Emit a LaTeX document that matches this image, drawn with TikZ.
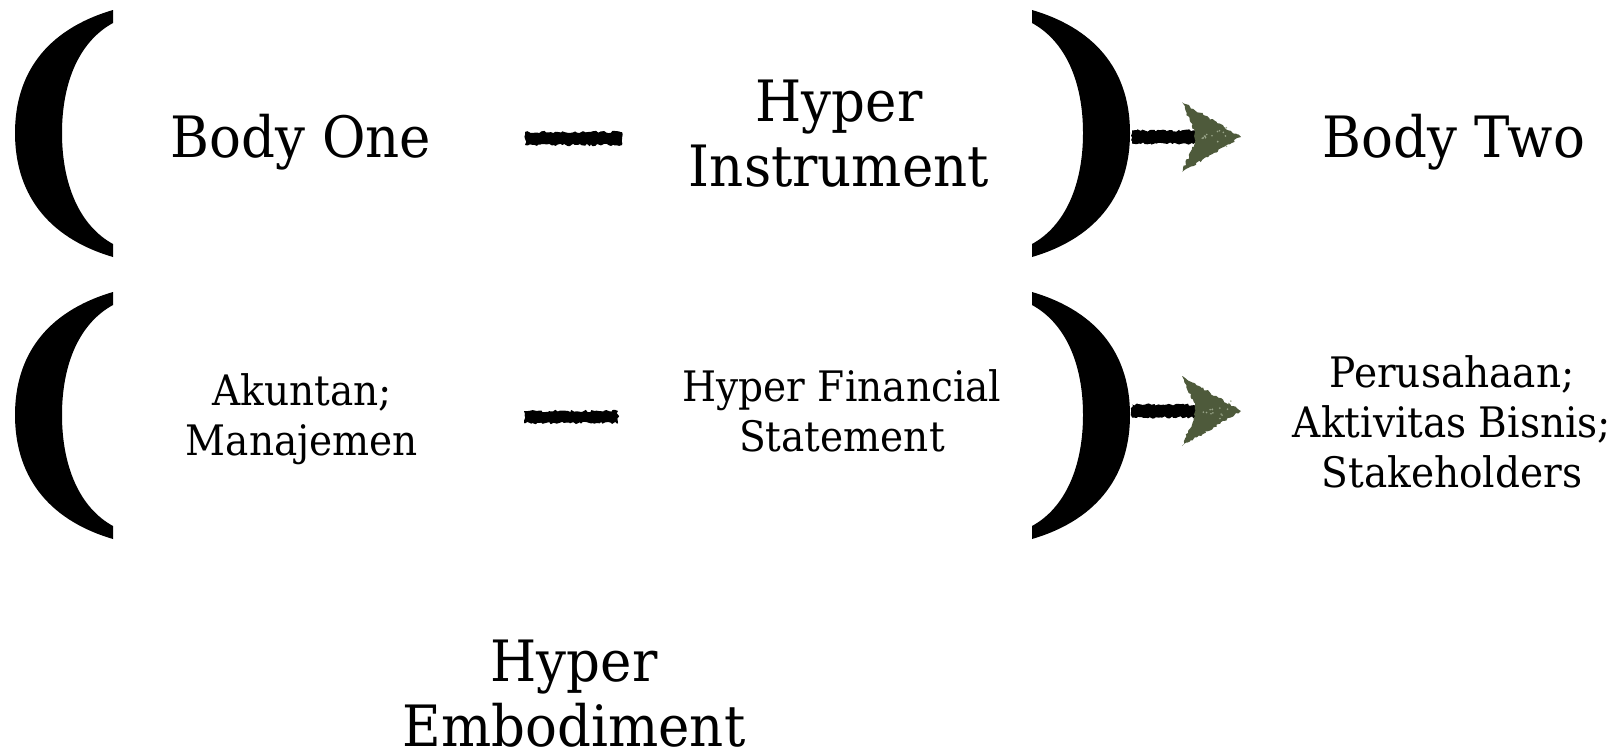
\documentclass[tikz,border=0pt]{standalone}
\usepackage{fontspec}
\setmainfont{DejaVu Serif}[FakeStretch=0.93]
\usetikzlibrary{decorations.pathmorphing}

\definecolor{leaf}{HTML}{4E5A3B}
\definecolor{leaflight}{HTML}{9AA58A}

\tikzset{
  big/.style={font=\fontsize{57}{65}\selectfont, align=center, inner sep=0pt, anchor=base},
  small/.style={font=\fontsize{42}{50}\selectfont, align=center, inner sep=0pt, anchor=base},
  rough/.style={decorate, decoration={random steps, segment length=2.2pt, amplitude=1.2pt}},
  stroke/.style={rough, fill=black},
  headfill/.style={rough, fill=leaf},
  bracket/.pic={
    \fill (0,0) .. controls (-68,20) and (-98,65) .. (-98,123)
          .. controls (-98,181) and (-68,227) .. (0,247)
          -- (0,234) .. controls (-33,216) and (-51,175) .. (-51,123)
          .. controls (-51,71) and (-33,31) .. (0,13) -- cycle;
  }
}

\begin{document}
\begin{tikzpicture}[x=1pt, y=-1pt]
\pgfmathsetseed{7}
\useasboundingbox (0,0) rectangle (1621,755);

% brackets
\pic at (113,10) {bracket};
\pic[xscale=-1] at (1032,10) {bracket};
\pic at (113,292) {bracket};
\pic[xscale=-1] at (1032,292) {bracket};

% texts (anchored at the baseline of their last line)
\node[big] (b1) at (301,157) {Body One};
\node[big] (hi) at (839,186) {Hyper\\Instrument};
\node[big] (b2) at (1454,157) {Body Two};
\node[small] (ak) at (302,455) {Akuntan;\\Manajemen};
\node[small] (hf) at (842,451) {Hyper Financial\\Statement};
\node[small] (pe) at (1452,487) {Perusahaan;\\Aktivitas Bisnis;\\Stakeholders};
\node[big] (he) at (574,746) {Hyper\\Embodiment};

% dashes between the pairs
\coordinate (d1a) at (525,132);
\coordinate (d1b) at (622,145);
\coordinate (d2a) at (524,411);
\coordinate (d2b) at (618,423);
\fill[stroke] (d1a) rectangle (d1b);
\fill[stroke] (d2a) rectangle (d2b);

% arrows
\foreach \yy/\nm in {137/a1, 411/a2}{
  \coordinate (\nm s) at (1132,\yy);
  \coordinate (\nm t) at (1241,\yy);
  \fill[stroke] ([yshift=-6.5]\nm s) rectangle ([xshift=-43, yshift=6.5]\nm t);
  \fill[headfill] ([xshift=-59, yshift=-35]\nm t) -- (\nm t)
     -- ([xshift=-59, yshift=35]\nm t) -- ([xshift=-46, yshift=5]\nm t)
     -- ([xshift=-46, yshift=-5]\nm t) -- cycle;
  % chalky speckles on the head
  \foreach \k in {1,...,14}{
    \pgfmathsetmacro{\dx}{-40+30*rnd}
    \pgfmathsetmacro{\dy}{(-14+28*rnd)*(1+\dx/45)}
    \fill[leaflight] ([xshift=\dx, yshift=\dy]\nm t) circle (0.9);
  }
}
\end{tikzpicture}
\end{document}
